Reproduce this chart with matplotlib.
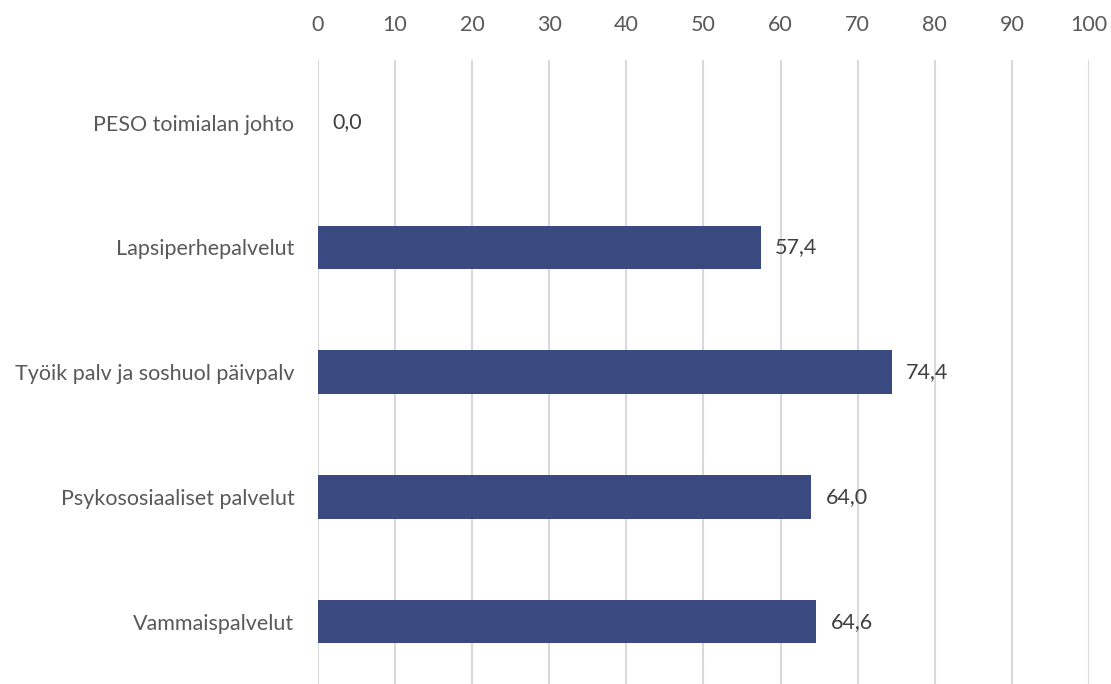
import matplotlib
matplotlib.use("Agg")
import matplotlib.pyplot as plt

categories = [
    "PESO toimialan johto",
    "Lapsiperhepalvelut",
    "Työik palv ja soshuol päivpalv",
    "Psykososiaaliset palvelut",
    "Vammaispalvelut",
]
values = [0.0, 57.4, 74.4, 64.0, 64.6]
xticks = list(range(0, 101, 10))

plt.rcParams["font.family"] = ["Lato", "DejaVu Sans"]

fig = plt.figure(figsize=(11.11, 6.84), dpi=100)
ax = fig.add_axes([0.2862, 0.0, 0.6940, 0.912])

ypos = list(range(len(categories)))
ax.barh(ypos, values, height=0.35, color="#3a4a80", zorder=3)

for y, v in zip(ypos, values):
    ax.text(v + 1.9, y, f"{v:.1f}".replace(".", ","), va="center", ha="left",
            fontsize=15.5, color="#404040")

ax.set_xlim(0, 100)
ax.set_ylim(len(categories) - 0.5, -0.5)
ax.set_xticks(xticks)
ax.set_xticklabels([str(t) for t in xticks])
ax.set_yticks(ypos)
ax.set_yticklabels(categories)

ax.xaxis.tick_top()
ax.tick_params(axis="x", length=0, pad=18, labelsize=15.5, labelcolor="#595959")
ax.tick_params(axis="y", length=0, pad=17, labelsize=15.5, labelcolor="#595959")

ax.grid(axis="x", color="#d9d9d9", linewidth=1.5, zorder=0)
for s in ax.spines.values():
    s.set_visible(False)

fig.savefig("out.png", dpi=100, facecolor="white")
